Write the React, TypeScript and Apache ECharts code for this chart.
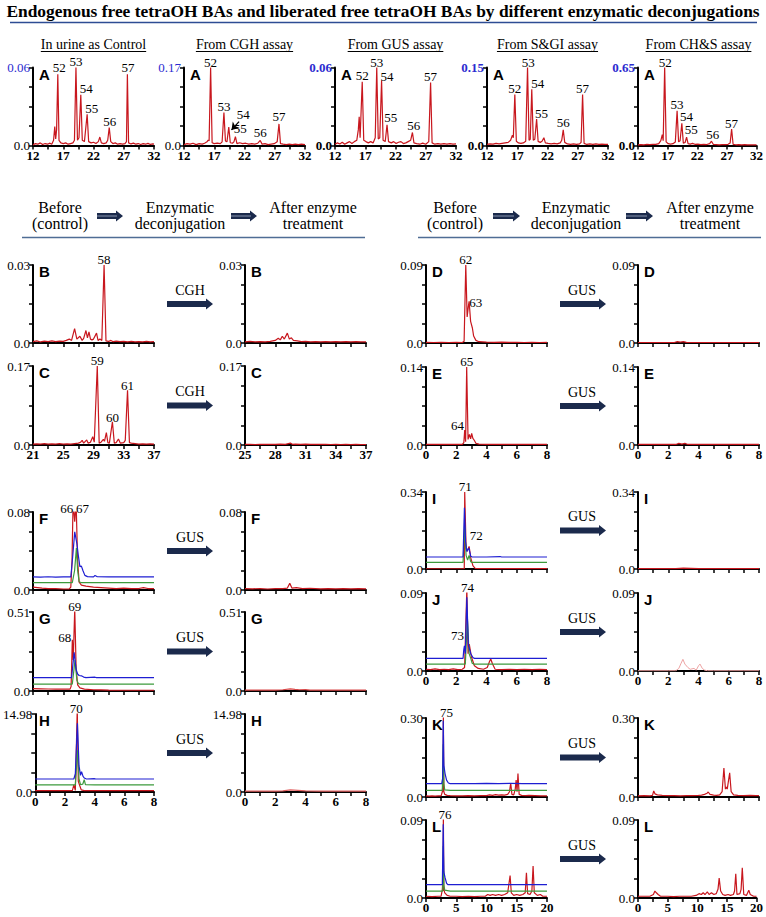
import React, { useEffect, useRef } from 'react';
import * as echarts from 'echarts';

// ---------- data ----------
const topTitles = ['In urine as Control', 'From CGH assay', 'From GUS assay', 'From S&GI assay', 'From CH&S assay'];
const topYMax = [0.06, 0.17, 0.06, 0.15, 0.65];
const topYLabels = ['0.06', '0.17', '0.06', '0.15', '0.65'];
const topYBold = [false, false, true, true, true];

const xLabelsTop = [12, 17, 22, 27, 32];
const xLabelsBC = [21, 25, 29, 33, 37];
const xLabelsBCAfter = [25, 28, 31, 34, 37];
const xLabels08 = [0, 2, 4, 6, 8];
const xLabels020 = [0, 5, 10, 15, 20];

const leftLetters = ['B', 'C', 'F', 'G', 'H'];
const leftYMax = [0.03, 0.17, 0.08, 0.51, 14.98];
const leftYLabels = ['0.03', '0.17', '0.08', '0.51', '14.98'];
const leftEnzymes = ['CGH', 'CGH', 'GUS', 'GUS', 'GUS'];

const rightLetters = ['D', 'E', 'I', 'J', 'K', 'L'];
const rightYMax = [0.09, 0.14, 0.34, 0.09, 0.3, 0.09];
const rightYLabels = ['0.09', '0.14', '0.34', '0.09', '0.30', '0.09'];
const rightEnzymes = ['GUS', 'GUS', 'GUS', 'GUS', 'GUS', 'GUS'];

// top row traces (x, y flat pairs)
const ctlA = [12,0.0005,12.4,0.0015,12.8,0.001,13.2,0.002,13.6,0.0008,14,0.0015,14.4,0.001,14.8,0.0018,15.1,0.001,15.4,0.004,15.6,0.0145,15.75,0.005,15.9,0.012,16.1,0.0548,16.3,0.004,16.6,0.002,17,0.0015,17.4,0.002,17.8,0.001,18.2,0.0015,18.6,0.002,18.85,0.004,19.1,0.06,19.35,0.004,19.6,0.006,19.9,0.039,20.15,0.004,20.5,0.003,20.95,0.024,21.2,0.003,21.6,0.002,22,0.0025,22.4,0.0015,22.8,0.003,23.05,0.0065,23.3,0.002,23.7,0.0015,24.1,0.002,24.35,0.004,24.6,0.0138,24.85,0.003,25.2,0.0015,25.6,0.002,26,0.001,26.4,0.0015,26.8,0.001,27.2,0.0015,27.45,0.003,27.6,0.0548,27.8,0.002,28.2,0.0012,28.6,0.0018,29,0.001,29.4,0.0015,29.8,0.0008,30.2,0.0014,30.6,0.001,31,0.0016,31.4,0.0008,31.8,0.0012,32,0.001];
const cghA = [12,0.002,12.5,0.004,13,0.003,13.5,0.005,14,0.002,14.5,0.004,15,0.003,15.4,0.005,15.8,0.008,16.0,0.012,16.15,0.01,16.4,0.17,16.65,0.006,17,0.004,17.5,0.005,18,0.004,18.3,0.008,18.6,0.072,18.85,0.01,19.1,0.008,19.4,0.04,19.65,0.006,20,0.005,20.25,0.008,20.5,0.0195,20.75,0.004,21.2,0.006,21.7,0.004,22.2,0.005,22.7,0.003,23.2,0.004,23.7,0.003,24.2,0.005,24.6,0.011,24.9,0.003,25.4,0.004,25.9,0.002,26.4,0.003,26.9,0.004,27.4,0.008,27.7,0.047,27.95,0.004,28.4,0.003,28.9,0.002,29.4,0.003,29.9,0.002,30.4,0.003,30.9,0.002,31.4,0.003,32,0.002];
const gusA = [12,0.001,12.4,0.002,12.8,0.0012,13.2,0.0025,13.6,0.001,14,0.002,14.4,0.003,14.8,0.0015,15.2,0.003,15.6,0.004,15.85,0.012,16.0,0.022,16.15,0.006,16.5,0.049,16.75,0.004,17.1,0.003,17.5,0.002,17.9,0.003,18.3,0.002,18.65,0.006,18.9,0.06,19.15,0.005,19.4,0.006,19.7,0.05,19.95,0.004,20.3,0.003,20.6,0.016,20.85,0.003,21.3,0.002,21.7,0.003,22.1,0.0015,22.5,0.0025,22.9,0.003,23.3,0.0015,23.7,0.002,24.1,0.003,24.5,0.004,24.8,0.01,25.05,0.002,25.5,0.0015,26,0.001,26.5,0.0018,27,0.001,27.5,0.003,27.8,0.0485,28.05,0.002,28.5,0.001,29,0.0015,29.5,0.001,30,0.0015,30.5,0.001,31,0.0015,31.5,0.001,32,0.0012];
const sgiA = [12,0.002,12.5,0.003,13,0.0025,13.5,0.004,14,0.003,14.5,0.004,15,0.005,15.5,0.006,15.9,0.01,16.2,0.02,16.35,0.015,16.6,0.098,16.85,0.008,17.2,0.005,17.6,0.004,18.0,0.005,18.4,0.008,18.7,0.15,18.95,0.01,19.15,0.012,19.4,0.108,19.65,0.01,19.9,0.012,20.2,0.051,20.45,0.008,20.8,0.006,21.1,0.008,21.4,0.015,21.65,0.005,22.1,0.004,22.6,0.003,23.1,0.004,23.6,0.003,24.1,0.005,24.35,0.01,24.6,0.03,24.85,0.006,25.3,0.003,25.8,0.002,26.3,0.003,26.8,0.002,27.3,0.003,27.55,0.006,27.8,0.098,28.05,0.004,28.5,0.002,29,0.003,29.5,0.002,30,0.003,30.5,0.002,31,0.0025,31.5,0.002,32,0.002];
const chsA = [12,0.005,12.5,0.008,13,0.006,13.5,0.009,14,0.007,14.5,0.01,15,0.009,15.5,0.015,15.85,0.04,16.1,0.09,16.25,0.04,16.5,0.65,16.75,0.03,17.1,0.015,17.5,0.012,17.9,0.015,18.3,0.03,18.6,0.29,18.85,0.03,19.1,0.04,19.4,0.185,19.65,0.02,19.95,0.025,20.2,0.069,20.45,0.015,20.8,0.012,21.2,0.018,21.6,0.01,22.1,0.012,22.6,0.008,23.1,0.01,23.6,0.008,24.1,0.015,24.4,0.036,24.7,0.01,25.2,0.008,25.7,0.006,26.2,0.008,26.7,0.007,27.2,0.01,27.55,0.02,27.8,0.138,28.05,0.01,28.5,0.006,29,0.008,29.5,0.005,30,0.007,30.5,0.005,31,0.006,31.5,0.005,32,0.005];

// peak labels: [x, y of label bottom, text]
const lblCtl: [number, number, string][] = [[16.35,0.0555,'52'],[19.1,0.0605,'53'],[20.8,0.040,'54'],[21.7,0.0245,'55'],[24.7,0.014,'56'],[27.7,0.0555,'57']];
const lblCgh: [number, number, string][] = [[16.4,0.17,'52'],[18.6,0.073,'53'],[21.8,0.055,'54'],[21.3,0.024,'55'],[24.6,0.017,'56'],[27.7,0.052,'57']];
const lblGus: [number, number, string][] = [[16.5,0.05,'52'],[18.9,0.06,'53'],[20.6,0.049,'54'],[21.2,0.017,'55'],[25.0,0.011,'56'],[27.8,0.049,'57']];
const lblSgi: [number, number, string][] = [[16.6,0.1,'52'],[18.8,0.15,'53'],[20.4,0.109,'54'],[21.0,0.051,'55'],[24.6,0.033,'56'],[27.8,0.1,'57']];
const lblChs: [number, number, string][] = [[16.6,0.65,'52'],[18.6,0.296,'53'],[20.2,0.196,'54'],[21.0,0.084,'55'],[24.6,0.049,'56'],[27.8,0.14,'57']];
const cghArrow = [21.1, 0.052, 19.85, 0.034];

// left column
const bBefore = [21,0.0005,21.5,0.0008,22,0.0004,22.5,0.0007,23,0.0005,23.5,0.0008,24,0.0005,24.5,0.0007,25,0.0006,25.4,0.001,25.8,0.0015,26.1,0.001,26.5,0.0055,26.8,0.0015,27.2,0.0026,27.5,0.001,27.7,0.0018,28.0,0.0048,28.2,0.002,28.4,0.0043,28.6,0.0015,28.8,0.0012,29.0,0.0015,29.4,0.0038,29.6,0.001,29.85,0.0015,30.1,0.001,30.4,0.03,30.65,0.0008,31,0.0006,31.3,0.001,31.6,0.0005,32,0.0007,32.5,0.0005,33,0.0006,33.5,0.0004,34,0.0006,34.5,0.0004,35,0.0005,35.5,0.0004,36,0.0006,36.5,0.0004,37,0.0005];
const bAfter = [25,0.0004,25.5,0.0006,26,0.0004,26.5,0.0005,27,0.0004,27.5,0.0006,28,0.001,28.3,0.0018,28.5,0.0012,28.7,0.0026,28.9,0.0015,29.2,0.0038,29.4,0.0015,29.6,0.002,29.8,0.001,30.2,0.0008,30.6,0.0005,31,0.0006,31.5,0.0004,32,0.0005,32.5,0.0004,33,0.0005,33.5,0.0004,34,0.0005,34.5,0.0004,35,0.0005,35.5,0.0004,36,0.0005,36.5,0.0004,37,0.0004];
const cBefore = [21,0.002,21.5,0.0025,22,0.002,22.5,0.003,23,0.002,23.5,0.0025,24,0.002,24.5,0.003,25,0.002,25.5,0.0025,26,0.002,26.5,0.003,27,0.004,27.3,0.006,27.5,0.01,27.7,0.004,28.1,0.011,28.3,0.004,28.6,0.006,28.9,0.018,29.1,0.006,29.5,0.17,29.75,0.004,30.0,0.006,30.3,0.012,30.45,0.008,30.7,0.0265,30.9,0.005,31.1,0.004,31.5,0.05,31.75,0.004,32.0,0.005,32.3,0.013,32.55,0.004,33.0,0.005,33.2,0.01,33.5,0.118,33.75,0.005,34.0,0.004,34.5,0.003,35,0.002,35.5,0.0025,36,0.002,36.5,0.0025,37,0.002];
const cAfter = [25,0.0012,25.5,0.0015,26,0.001,26.5,0.0015,27,0.0012,27.5,0.0016,28,0.0012,28.5,0.0018,29,0.0015,29.5,0.004,29.7,0.0015,30,0.002,30.5,0.0015,31,0.0018,31.5,0.0012,32,0.0015,32.5,0.0012,33,0.0014,33.5,0.0011,34,0.0013,34.5,0.001,35,0.0013,35.5,0.001,36,0.0012,36.5,0.001,37,0.0011];
const lblB: [number, number, string][] = [[30.4,0.03,'58']];
const lblC: [number, number, string][] = [[29.5,0.17,'59'],[31.5,0.048,'60'],[33.5,0.116,'61']];

const fRed = [0,0.003,0.3,0.0025,0.6,0.002,1,0.0015,1.5,0.0015,2,0.001,2.4,0.0012,2.5,0.003,2.58,0.03,2.65,0.09,2.76,0.07,2.85,0.09,2.95,0.03,3.05,0.008,3.2,0.005,3.5,0.004,4,0.003,4.5,0.0025,5,0.002,5.5,0.0015,6,0.002,6.5,0.0015,7,0.0015,7.3,0.0025,7.6,0.0015,8,0.0015];
const fBlue = [0,0.0135,0.5,0.0132,1,0.0136,1.5,0.0133,2,0.0135,2.5,0.0134,2.6,0.03,2.76,0.0596,2.9,0.0477,3.0,0.035,3.1,0.024,3.2,0.0245,3.3,0.02,3.43,0.015,3.6,0.0137,4,0.0135,4.1,0.0148,4.25,0.0136,5,0.0134,6,0.0136,7,0.0134,8,0.0135];
const fGreen = [0,0.0075,1,0.0076,2,0.0075,2.6,0.0075,2.75,0.02,2.87,0.043,2.95,0.02,3.05,0.0085,3.2,0.0075,4,0.0076,5,0.0075,6,0.0076,7,0.0075,8,0.0075];
const fAfter = [0,0.0015,0.5,0.0012,1,0.0015,1.5,0.001,2,0.0015,2.5,0.0015,2.8,0.002,2.96,0.0068,3.1,0.002,3.4,0.0025,3.8,0.0015,4.3,0.0018,5,0.0012,5.5,0.0015,6,0.0012,6.5,0.0014,7,0.0012,7.5,0.0014,8,0.0012];
const lblF: [number, number, string][] = [[2.23,0.078,'66'],[3.28,0.078,'67']];

const gRed = [0,0.015,0.5,0.014,1,0.013,1.5,0.012,2,0.012,2.45,0.012,2.52,0.03,2.6,0.33,2.66,0.2,2.76,0.53,2.85,0.15,2.95,0.04,3.1,0.02,3.4,0.012,4,0.008,4.5,0.007,5,0.006,6,0.005,7,0.005,8,0.005];
const gBlue = [0,0.086,1,0.0865,2,0.086,2.55,0.086,2.72,0.25,2.85,0.14,2.95,0.11,3.05,0.1,3.2,0.098,3.35,0.09,3.5,0.086,4.1,0.089,4.2,0.086,5,0.086,6,0.0865,7,0.086,8,0.086];
const gGreen = [0,0.045,1,0.045,2,0.045,2.6,0.045,2.78,0.2,2.9,0.07,3.0,0.048,3.1,0.045,4,0.045,5,0.045,6,0.045,7,0.045,8,0.045];
const gAfter = [0,0.006,1,0.006,2,0.006,2.5,0.008,3.0,0.014,3.3,0.01,3.6,0.008,4.0,0.009,4.3,0.006,5,0.006,6,0.006,7,0.006,8,0.006];
const lblG: [number, number, string][] = [[2.76,0.51,'69'],[2.1,0.313,'68']];

const hRed = [0,0.25,1,0.25,2,0.25,2.5,0.25,2.6,1.35,2.7,0.3,2.83,16,2.9,2.05,3.0,1.2,3.1,0.4,3.3,0.25,4,0.25,5,0.25,6,0.25,7,0.25,8,0.25];
const hBlue = [0,2.5,1,2.5,2,2.5,2.6,2.5,2.7,3.5,2.84,13.2,2.95,5,3.05,3.2,3.12,3.9,3.22,3.0,3.3,2.7,3.45,2.5,4,2.55,4.1,2.5,5,2.5,6,2.5,7,2.5,8,2.5];
const hGreen = [0,1.35,1,1.35,2,1.35,2.7,1.35,2.85,8,2.95,2.5,3.05,1.4,3.2,1.5,3.3,2.36,3.38,1.4,4,1.35,5,1.35,6,1.35,7,1.35,8,1.35];
const hAfter = [0,0.15,1,0.15,2,0.15,2.5,0.2,3.0,0.4,3.5,0.3,4.0,0.2,5,0.15,6,0.15,7,0.15,8,0.15];
const lblH: [number, number, string][] = [[2.76,14.98,'70']];

// right column
const dBefore = [0,0.0008,0.5,0.0006,1,0.0008,1.5,0.0006,2,0.0007,2.4,0.0006,2.52,0.002,2.63,0.09,2.72,0.03,2.8,0.042,2.85,0.048,2.95,0.025,3.07,0.017,3.15,0.008,3.3,0.003,3.5,0.0015,4,0.001,4.5,0.0008,5,0.001,5.5,0.0007,6,0.0008,6.5,0.0006,7,0.0008,7.5,0.0006,8,0.0007];
const dAfter = [0,0.0006,1,0.0006,2,0.0006,2.4,0.0006,2.6,0.0015,2.8,0.001,3.0,0.0015,3.2,0.0008,4,0.0006,5,0.0006,6,0.0006,7,0.0006,8,0.0006];
const eBefore = [0,0.0012,0.5,0.001,1,0.0012,1.5,0.001,2,0.0012,2.4,0.001,2.5,0.004,2.56,0.027,2.62,0.006,2.69,0.14,2.78,0.01,2.87,0.019,2.95,0.011,3.02,0.021,3.1,0.012,3.18,0.009,3.3,0.003,3.5,0.0015,4,0.0012,4.5,0.001,5,0.0012,5.5,0.001,6,0.0012,6.5,0.001,7,0.0012,7.5,0.001,8,0.0011];
const eAfter = [0,0.001,1,0.001,2,0.001,2.5,0.001,2.7,0.003,2.9,0.0015,3.1,0.003,3.3,0.001,4,0.001,5,0.001,6,0.001,7,0.001,8,0.001];
const lblD: [number, number, string][] = [[2.63,0.09,'62'],[3.29,0.04,'63']];
const lblE: [number, number, string][] = [[2.69,0.14,'65'],[2.08,0.025,'64']];

const iRed = [0,0.001,0.5,0.0012,1,0.001,1.5,0.0012,2,0.001,2.53,0.001,2.56,0.34,2.65,0.09,2.72,0.078,2.85,0.1,2.96,0.049,3.1,0.015,3.25,0.003,3.5,0.002,4,0.0015,5,0.0015,6,0.0015,7,0.0015,8,0.0015];
const iBlue = [0,0.053,1,0.053,2,0.053,2.45,0.053,2.54,0.27,2.62,0.12,2.7,0.078,2.83,0.093,2.96,0.056,3.05,0.053,4,0.053,4.9,0.055,5.0,0.053,6,0.053,7,0.053,8,0.053];
const iGreen = [0,0.029,1,0.029,2,0.029,2.45,0.029,2.56,0.19,2.65,0.06,2.75,0.04,2.85,0.06,2.96,0.032,3.05,0.029,4,0.029,5,0.029,6,0.029,7,0.029,8,0.029];
const iAfter = [0,0.002,1,0.002,2,0.002,2.5,0.002,3,0.004,3.5,0.003,4,0.002,5,0.002,6,0.002,7,0.002,8,0.002];
const lblI: [number, number, string][] = [[2.59,0.34,'71'],[3.32,0.124,'72']];

const jRed = [0,0.002,0.3,0.0015,0.6,0.0025,0.9,0.0015,1.2,0.002,1.5,0.0015,1.8,0.0025,2.1,0.0015,2.4,0.002,2.55,0.004,2.7,0.095,2.78,0.02,2.86,0.031,3.0,0.0165,3.2,0.006,3.45,0.003,3.8,0.002,4.05,0.004,4.2,0.011,4.28,0.0138,4.4,0.008,4.57,0.002,5,0.0015,5.5,0.002,6,0.0015,6.5,0.002,7,0.0015,7.5,0.002,8,0.0015];
const jBlue = [0,0.0146,1,0.0146,2,0.0146,2.45,0.0146,2.5,0.025,2.54,0.029,2.6,0.02,2.7,0.085,2.8,0.03,2.96,0.02,3.1,0.0155,3.2,0.0146,4,0.0146,5,0.0146,6,0.0146,7,0.0146,8,0.0146];
const jGreen = [0,0.008,1,0.008,2,0.008,2.6,0.008,2.74,0.06,2.85,0.02,2.96,0.0146,3.05,0.009,3.15,0.008,4,0.008,5,0.008,6,0.008,7,0.008,8,0.008];
const jAfter = [0,0.0003,1,0.0003,2,0.0003,2.5,0.0003,2.7,0.003,2.85,0.009,2.97,0.0135,3.1,0.008,3.3,0.004,3.45,0.002,3.7,0.003,3.85,0.001,4.0,0.006,4.1,0.008,4.25,0.003,4.4,0.001,4.6,0.0003,5,0.0003,6,0.0003,7,0.0003,8,0.0003];
const lblJ: [number, number, string][] = [[2.74,0.09,'74'],[2.08,0.0346,'73']];

const kRed = [0,0.004,0.5,0.003,1,0.004,1.5,0.003,2,0.004,2.5,0.004,2.7,0.02,2.76,0.044,2.82,0.02,2.87,0.31,2.95,0.02,3.1,0.01,3.5,0.006,4,0.005,5,0.004,6,0.004,7,0.005,8,0.004,9,0.005,10,0.005,10.5,0.008,11,0.006,11.5,0.009,12,0.007,12.5,0.008,13,0.007,13.5,0.01,13.8,0.02,14.0,0.053,14.2,0.01,14.5,0.008,14.75,0.03,14.9,0.064,15.05,0.02,15.2,0.089,15.4,0.01,15.8,0.006,16.5,0.005,17,0.006,18,0.005,19,0.004,20,0.004];
const kBlue = [0,0.051,1,0.051,2,0.051,2.6,0.051,2.75,0.07,2.85,0.29,2.95,0.12,3.15,0.089,3.4,0.064,3.7,0.053,4,0.051,6,0.051,8,0.051,10,0.052,12,0.051,14,0.052,16,0.051,18,0.051,20,0.051];
const kGreen = [0,0.025,1,0.025,2,0.025,2.7,0.025,2.85,0.2,2.95,0.05,3.1,0.027,4,0.025,8,0.025,12,0.025,16,0.025,20,0.025];
const kAfter = [0,0.004,1,0.005,2,0.004,2.4,0.006,2.6,0.023,2.8,0.012,3.2,0.008,4,0.006,5,0.005,6,0.005,7,0.004,8,0.005,9,0.005,10,0.006,10.5,0.007,11,0.01,11.4,0.014,11.6,0.019,11.9,0.01,12.5,0.007,13,0.006,13.5,0.008,13.9,0.02,14.2,0.11,14.45,0.03,14.6,0.038,14.75,0.03,15.15,0.092,15.4,0.02,15.8,0.008,16.5,0.006,17.5,0.005,18.5,0.006,19.5,0.005,20,0.005];
const lblK: [number, number, string][] = [[3.4,0.3,'75']];

const lRed = [0,0.002,1,0.0015,2,0.002,2.5,0.002,2.7,0.01,2.76,0.017,2.82,0.008,2.87,0.095,2.95,0.01,3.1,0.006,3.5,0.003,4,0.002,5,0.002,6,0.0015,7,0.002,8,0.0015,9,0.002,9.8,0.002,10.2,0.004,10.6,0.003,11,0.004,11.5,0.003,12,0.004,12.5,0.003,13,0.004,13.5,0.006,13.9,0.026,14.1,0.006,14.5,0.003,15,0.004,15.5,0.003,16,0.004,16.4,0.006,16.6,0.029,16.8,0.005,17.2,0.004,17.5,0.008,17.7,0.037,17.9,0.006,18.4,0.003,18.9,0.004,19.3,0.002,20,0.002];
const lBlue = [0,0.0155,1,0.0155,2,0.0155,2.7,0.0155,2.85,0.085,2.95,0.03,3.15,0.0235,3.4,0.017,3.6,0.0155,6,0.0155,10,0.0156,14,0.0155,18,0.0155,20,0.0155];
const lGreen = [0,0.008,1,0.008,2,0.008,2.75,0.008,2.86,0.06,2.95,0.015,3.1,0.009,4,0.008,8,0.008,12,0.008,16,0.008,20,0.008];
const lAfter = [0,0.002,1,0.002,2,0.002,2.6,0.004,2.85,0.008,3.1,0.006,3.4,0.004,3.8,0.002,5,0.002,6,0.0015,7,0.002,8,0.002,9,0.002,9.8,0.003,10.3,0.005,10.7,0.004,11,0.006,11.3,0.004,11.7,0.007,12,0.004,12.4,0.006,12.8,0.004,13.2,0.005,13.5,0.01,13.7,0.023,13.95,0.008,14.3,0.004,14.7,0.003,15.2,0.004,15.6,0.003,16.1,0.004,16.3,0.008,16.5,0.028,16.7,0.004,17.2,0.005,17.4,0.01,17.6,0.035,17.85,0.004,18.3,0.003,18.7,0.009,18.95,0.004,19.5,0.002,20,0.002];
const lblL: [number, number, string][] = [[3.15,0.09,'76']];

// ---------- styles / layout ----------
const SERIF = '"Liberation Serif", "Times New Roman", serif';
const SANS = '"Liberation Sans", Arial, sans-serif';
const RED = '#c8171e';
const BLUE = '#1e1ed2';
const GREEN = '#3d9a3d';
const PINK = '#eda3a3';
const NAVY = '#1b2a4c';

const pairs = (f: number[]) => {
  const out: number[][] = [];
  for (let i = 0; i < f.length; i += 2) out.push([f[i], f[i + 1]]);
  return out;
};

interface Trace { data: number[]; color: string; width?: number }
interface Panel {
  left: number; top: number; width: number; height: number;
  xLabels: number[]; showX: boolean; yMax: number; yLabel: string;
  yColor?: string; yBold?: boolean; letter: string;
  traces: Trace[]; labels: [number, number, string][]; arrow?: number[];
}

const rgb = (r: number[], b: number[], g: number[]): Trace[] => [
  { data: r, color: RED }, { data: g, color: GREEN }, { data: b, color: BLUE },
];

function buildPanels(): Panel[] {
  const panels: Panel[] = [];
  const topLefts = [33, 184, 335, 487, 638];
  const topTraces = [ctlA, cghA, gusA, sgiA, chsA];
  const topLbls = [lblCtl, lblCgh, lblGus, lblSgi, lblChs];
  topLefts.forEach((l, i) => {
    panels.push({
      left: l, top: 67.5, width: 121, height: 78, xLabels: xLabelsTop, showX: true,
      yMax: topYMax[i], yLabel: topYLabels[i], yColor: '#2b2bd0', yBold: topYBold[i], letter: 'A',
      traces: [{ data: topTraces[i], color: RED }], labels: topLbls[i], arrow: i === 1 ? cghArrow : undefined,
    });
  });
  const lTops = [265, 366, 512, 612, 714];
  const lH = [78, 79, 78, 79, 78];
  const lBefore: Trace[][] = [[{ data: bBefore, color: RED }], [{ data: cBefore, color: RED }], rgb(fRed, fBlue, fGreen), rgb(gRed, gBlue, gGreen), rgb(hRed, hBlue, hGreen)];
  const lAfterT: Trace[][] = [[{ data: bAfter, color: RED }], [{ data: cAfter, color: RED }], [{ data: fAfter, color: RED }], [{ data: gAfter, color: '#d94848' }], [{ data: hAfter, color: '#e06060' }]];
  const lLbls = [lblB, lblC, lblF, lblG, lblH];
  const lXb = [xLabelsBC, xLabelsBC, xLabels08, xLabels08, xLabels08];
  const lXa = [xLabelsBCAfter, xLabelsBCAfter, xLabels08, xLabels08, xLabels08];
  const lShow = [false, true, false, false, true];
  lTops.forEach((t, i) => {
    panels.push({ left: 33, top: t, width: 121, height: lH[i], xLabels: lXb[i], showX: lShow[i], yMax: leftYMax[i], yLabel: leftYLabels[i], letter: leftLetters[i], traces: lBefore[i], labels: lLbls[i] });
    panels.push({ left: 245, top: t, width: 121, height: lH[i], xLabels: lXa[i], showX: lShow[i], yMax: leftYMax[i], yLabel: leftYLabels[i], letter: leftLetters[i], traces: lAfterT[i], labels: [] });
  });
  const rTops = [265, 367, 492, 593, 718, 820];
  const rH = [78, 78, 77, 78, 79, 78];
  const rBefore: Trace[][] = [[{ data: dBefore, color: RED }], [{ data: eBefore, color: RED }], rgb(iRed, iBlue, iGreen), rgb(jRed, jBlue, jGreen), rgb(kRed, kBlue, kGreen), rgb(lRed, lBlue, lGreen)];
  const rAfterT: Trace[][] = [[{ data: dAfter, color: RED }], [{ data: eAfter, color: RED }], [{ data: iAfter, color: RED }], [{ data: jAfter, color: PINK, width: 1 }], [{ data: kAfter, color: RED }], [{ data: lAfter, color: RED }]];
  const rLbls = [lblD, lblE, lblI, lblJ, lblK, lblL];
  const rX = [xLabels08, xLabels08, xLabels08, xLabels08, xLabels020, xLabels020];
  const rShow = [false, true, false, true, false, true];
  rTops.forEach((t, i) => {
    panels.push({ left: 426, top: t, width: 121, height: rH[i], xLabels: rX[i], showX: rShow[i], yMax: rightYMax[i], yLabel: rightYLabels[i], letter: rightLetters[i], traces: rBefore[i], labels: rLbls[i] });
    panels.push({ left: 638, top: t, width: 121, height: rH[i], xLabels: rX[i], showX: rShow[i], yMax: rightYMax[i], yLabel: rightYLabels[i], letter: rightLetters[i], traces: rAfterT[i], labels: [] });
  });
  return panels;
}

function arrowPoly(x0: number, x1: number, y: number, sh: number, hh: number, hl: number) {
  return [[x0, y - sh], [x1 - hl, y - sh], [x1 - hl, y - hh], [x1, y], [x1 - hl, y + hh], [x1 - hl, y + sh], [x0, y + sh]];
}

function measure(text: string, font: string) {
  const c = document.createElement('canvas').getContext('2d');
  if (!c) return text.length * 6;
  c.font = font;
  return c.measureText(text).width;
}

function buildOption() {
  const panels = buildPanels();
  const grid: any[] = [], xAxis: any[] = [], yAxis: any[] = [], series: any[] = [], graphic: any[] = [];

  panels.forEach((p, i) => {
    grid.push({ left: p.left, top: p.top, width: p.width, height: p.height });
    const xl = p.xLabels;
    const xt: number[] = [];
    xl.forEach((v, k) => { xt.push(v); if (k < xl.length - 1) xt.push((v + xl[k + 1]) / 2); });
    xAxis.push({
      type: 'value', gridIndex: i, min: xl[0], max: xl[xl.length - 1],
      axisLine: { show: true, onZero: false, lineStyle: { color: '#000', width: 2 } },
      axisTick: { show: true, length: 4, customValues: xt, lineStyle: { color: '#000', width: 1.5 } },
      axisLabel: { show: p.showX, customValues: xl, formatter: (v: number) => String(v), fontFamily: SERIF, fontWeight: 'bold', fontSize: 13, color: '#000', margin: 3 },
      splitLine: { show: false },
    });
    const m = p.yMax;
    yAxis.push({
      type: 'value', gridIndex: i, min: 0, max: m,
      axisLine: { show: true, onZero: false, lineStyle: { color: '#000', width: 2 } },
      axisTick: { show: true, length: 4, customValues: [0, m / 4, m / 2, (3 * m) / 4, m], lineStyle: { color: '#000', width: 1.5 } },
      axisLabel: {
        show: true, customValues: [0, m], margin: 3, fontFamily: SERIF, fontSize: 13,
        formatter: (v: number) => (v === 0 ? '0.0' : p.yLabel),
        color: (v: any) => (Number(v) === 0 ? '#000' : p.yColor || '#000'),
        fontWeight: p.yBold ? 'bold' : 'normal',
      },
      splitLine: { show: false },
    });
    p.traces.forEach((t, k) => {
      const s: any = {
        type: 'line', xAxisIndex: i, yAxisIndex: i, data: pairs(t.data), showSymbol: false, symbol: 'none',
        lineStyle: { color: t.color, width: t.width || 1.2 }, clip: true, silent: true, z: 2 + k,
      };
      if (p.arrow && k === 0) {
        const a = p.arrow;
        s.markLine = {
          silent: true, symbol: ['none', 'arrow'], symbolSize: 7, animation: false,
          lineStyle: { color: '#000', width: 1.3, type: 'solid' }, label: { show: false },
          data: [[{ coord: [a[0], a[1]] }, { coord: [a[2], a[3]] }]],
        };
      }
      series.push(s);
    });
    if (p.labels.length) {
      series.push({
        type: 'scatter', xAxisIndex: i, yAxisIndex: i, silent: true, clip: false, z: 10,
        symbol: 'circle', symbolSize: 0, itemStyle: { color: '#000', opacity: 1 },
        data: p.labels.map(([x, y, t]) => ({ name: t, value: [x, y] })),
        label: { show: true, position: 'top', distance: 0, formatter: '{b}', fontFamily: SERIF, fontSize: 13, lineHeight: 11, fontWeight: 'normal', color: '#000', opacity: 1, textBorderWidth: 0 },
      });
    }
    graphic.push({ type: 'text', x: p.left + 6, y: p.top - 1, style: { text: p.letter, font: `bold 15px ${SANS}`, fill: '#000', textVerticalAlign: 'top' } });
  });

  // title
  const title = 'Endogenous free tetraOH BAs and liberated free tetraOH BAs by different enzymatic deconjugations';
  const w16 = measure(title, `bold 16px ${SERIF}`);
  const tSize = Math.min(18, Math.max(13, (16 * 754) / w16));
  graphic.push({ type: 'text', x: 383, y: 11, style: { text: title, font: `bold ${tSize.toFixed(2)}px ${SERIF}`, fill: '#000', textAlign: 'center', textVerticalAlign: 'middle' } });
  graphic.push({ type: 'line', shape: { x1: 10, y1: 22.5, x2: 757, y2: 22.5 }, style: { stroke: '#2d4c94', lineWidth: 1.5 } });

  // subtitles
  const subFont = `14px ${SERIF}`;
  [33, 184, 335, 487, 638].forEach((l, i) => {
    const cx = l + 60.5;
    const w = measure(topTitles[i], subFont);
    graphic.push({ type: 'text', x: cx, y: 44, style: { text: topTitles[i], font: subFont, fill: '#000', textAlign: 'center', textVerticalAlign: 'middle' } });
    graphic.push({ type: 'line', shape: { x1: cx - w / 2, y1: 51.5, x2: cx + w / 2, y2: 51.5 }, style: { stroke: '#000', lineWidth: 1 } });
  });

  // headers
  const hFont = `16px ${SERIF}`;
  const headerGroups = [
    { b: 60, e: 180, a: 313, a1: [97, 123], a2: [231, 257], line: [22, 365] },
    { b: 455, e: 576, a: 710, a1: [493, 520], a2: [626, 653], line: [418, 761] },
  ];
  headerGroups.forEach((g) => {
    const txt = (x: number, y: number, s: string) => graphic.push({ type: 'text', x, y, style: { text: s, font: hFont, lineHeight: 13, fill: '#000', textAlign: 'center', textVerticalAlign: 'middle' } });
    txt(g.b, 207.5, 'Before'); txt(g.b, 223, '(control)');
    txt(g.e, 207.5, 'Enzymatic'); txt(g.e, 223, 'deconjugation');
    txt(g.a, 207.5, 'After enzyme'); txt(g.a, 223, 'treatment');
    [g.a1, g.a2].forEach((a) => {
      graphic.push({ type: 'polygon', shape: { points: arrowPoly(a[0], a[1], 216, 3, 5.5, 7) }, style: { fill: NAVY } });
      graphic.push({ type: 'line', shape: { x1: a[0], y1: 216, x2: a[1] - 6, y2: 216 }, style: { stroke: '#8a96b0', lineWidth: 1 } });
    });
    graphic.push({ type: 'line', shape: { x1: g.line[0], y1: 237.5, x2: g.line[1], y2: 237.5 }, style: { stroke: '#4f6d95', lineWidth: 1.5 } });
  });

  // enzyme arrows
  const lTops = [265, 366, 512, 612, 714];
  const lH = [78, 79, 78, 79, 78];
  const rTops = [265, 367, 492, 593, 718, 820];
  const rH = [78, 78, 77, 78, 79, 78];
  const eFont = `14px ${SERIF}`;
  lTops.forEach((t, i) => {
    const y = t + lH[i] / 2;
    graphic.push({ type: 'polygon', shape: { points: arrowPoly(167, 213, y, 3, 5.5, 7) }, style: { fill: NAVY } });
    graphic.push({ type: 'text', x: 190, y: y - 14, style: { text: leftEnzymes[i], font: eFont, fill: '#000', textAlign: 'center', textVerticalAlign: 'middle' } });
  });
  rTops.forEach((t, i) => {
    const y = t + rH[i] / 2;
    graphic.push({ type: 'polygon', shape: { points: arrowPoly(560, 606, y, 3, 5.5, 7) }, style: { fill: NAVY } });
    graphic.push({ type: 'text', x: 582, y: y - 14, style: { text: rightEnzymes[i], font: eFont, fill: '#000', textAlign: 'center', textVerticalAlign: 'middle' } });
  });

  return { animation: false, backgroundColor: '#fff', grid, xAxis, yAxis, series, graphic };
}

export default function App() {
  const ref = useRef<HTMLDivElement>(null);
  useEffect(() => {
    document.body.style.margin = '0';
    if (!ref.current) return;
    const chart = echarts.init(ref.current, undefined, { renderer: 'svg' });
    chart.setOption(buildOption() as any);
    return () => chart.dispose();
  }, []);
  return <div ref={ref} style={{ width: 766, height: 917 }} />;
}
